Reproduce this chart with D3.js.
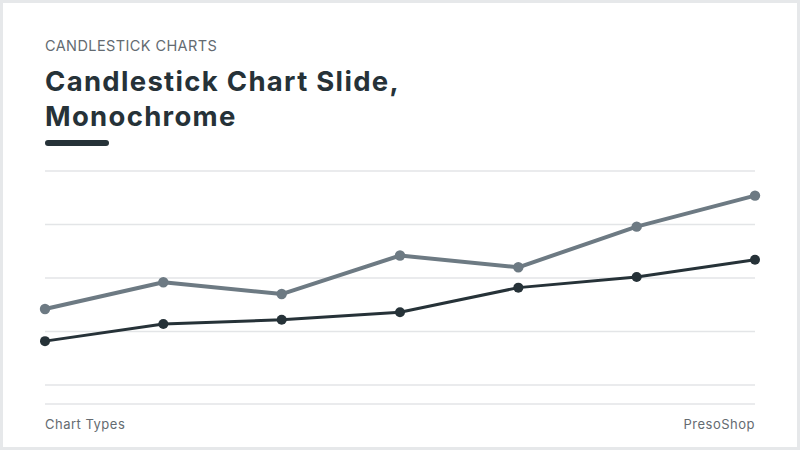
<!DOCTYPE html>
<html>
<head>
<meta charset="utf-8">
<script src="https://cdn.jsdelivr.net/npm/d3@7"></script>
<style>
  html, body { margin: 0; padding: 0; background: #fff; }
  svg { display: block; }
</style>
</head>
<body>
<div id="main"></div>
<script>
// categories along the x axis (not labelled in the slide)
var periods = ["P1", "P2", "P3", "P4", "P5", "P6", "P7"];
// values (grid: 0..100 in steps of 25)
var upperSeries = [35.5, 48, 42.5, 60.5, 55, 74, 88.5];
var lowerSeries = [20.5, 28.5, 30.5, 34, 45.5, 50.5, 58.5];
var gridTicks = [0, 25, 50, 75, 100];

var ctx = {
    w: 800,
    h: 450,
    left: 45,
    right: 755,
    top: 171,
    bottom: 385,
    dark: "#263238",
    slate: "#6d7a83",
    font: "Inter, 'Noto Sans', sans-serif",
};

var createViz = function(){
    var svgEl = d3.select("#main").append("svg")
        .attr("width", ctx.w)
        .attr("height", ctx.h);

    // slide frame
    svgEl.append("rect")
      .attr("x", 1.5).attr("y", 1.5)
      .attr("width", ctx.w - 3).attr("height", ctx.h - 3)
      .attr("fill", "#fff")
      .attr("stroke", "#e6e8ea")
      .attr("stroke-width", 3);

    // header
    svgEl.append("text")
      .attr("x", ctx.left).attr("y", 51)
      .style("font-family", ctx.font)
      .style("font-size", "14.5px")
      .style("letter-spacing", "0.4px")
      .style("fill", "#646b71")
      .text("CANDLESTICK CHARTS");
    var title = svgEl.append("text")
      .style("font-family", ctx.font)
      .style("font-weight", 700)
      .style("font-size", "27.5px")
      .style("letter-spacing", "1.3px")
      .style("fill", ctx.dark);
    title.append("tspan").attr("x", ctx.left).attr("y", 91).text("Candlestick Chart Slide,");
    title.append("tspan").attr("x", ctx.left).attr("y", 126).text("Monochrome");
    svgEl.append("rect")
      .attr("x", ctx.left).attr("y", 140)
      .attr("width", 64).attr("height", 6)
      .attr("rx", 3)
      .attr("fill", ctx.dark);

    // scales
    ctx.xScale = d3.scalePoint().domain(periods).range([ctx.left, ctx.right]);
    ctx.yScale = d3.scaleLinear().domain([0, 100]).range([ctx.bottom, ctx.top]);

    // grid lines
    var gridG = svgEl.append("g");
    gridG.selectAll("line")
      .data(gridTicks)
      .enter()
      .append("line")
      .attr("x1", ctx.left).attr("x2", ctx.right)
      .attr("y1", function(d){ return ctx.yScale(d); })
      .attr("y2", function(d){ return ctx.yScale(d); })
      .style("stroke", "#e3e5e7")
      .style("stroke-width", 1.5);
    // footer rule
    gridG.append("line")
      .attr("x1", ctx.left).attr("x2", ctx.right)
      .attr("y1", 404).attr("y2", 404)
      .style("stroke", "#e3e5e7")
      .style("stroke-width", 1.5);

    var lineGen = d3.line()
      .x(function(d, i){ return ctx.xScale(periods[i]); })
      .y(function(d){ return ctx.yScale(d); });

    var series = [
        {values: upperSeries, color: ctx.slate, width: 4, r: 5.2},
        {values: lowerSeries, color: ctx.dark, width: 3, r: 5},
    ];
    series.forEach(function(s){
        var g = svgEl.append("g");
        g.append("path")
          .attr("d", lineGen(s.values))
          .attr("fill", "none")
          .attr("stroke", s.color)
          .attr("stroke-width", s.width)
          .attr("stroke-linejoin", "round");
        g.selectAll("circle")
          .data(s.values)
          .enter()
          .append("circle")
          .attr("cx", function(d, i){ return ctx.xScale(periods[i]); })
          .attr("cy", function(d){ return ctx.yScale(d); })
          .attr("r", s.r)
          .attr("fill", s.color);
    });

    // footer
    svgEl.append("text")
      .attr("x", ctx.left).attr("y", 429)
      .style("font-family", ctx.font)
      .style("font-size", "13px")
      .style("letter-spacing", "0.5px")
      .style("fill", "#646b71")
      .text("Chart Types");
    svgEl.append("text")
      .attr("x", ctx.right).attr("y", 429)
      .attr("text-anchor", "end")
      .style("font-family", ctx.font)
      .style("font-size", "13px")
      .style("letter-spacing", "0.5px")
      .style("fill", "#646b71")
      .text("PresoShop");
};

createViz();
</script>
</body>
</html>
